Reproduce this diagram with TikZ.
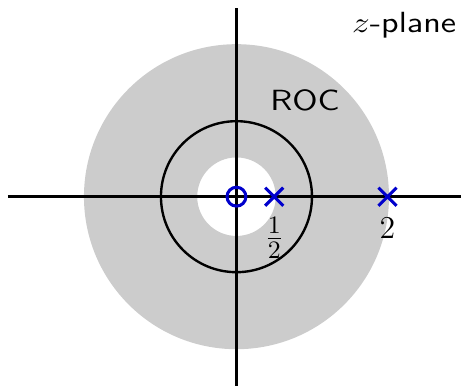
\documentclass[tikz,border=0pt]{standalone}
\usetikzlibrary{calc}
\begin{document}
\begin{tikzpicture}[x=1cm,y=1cm,
  axis/.style={line width=0.9pt},
  polemark/.style={blue!80!black, line width=1.15pt},
  lbl/.style={inner sep=0pt, font=\fontsize{11}{13}\selectfont\sffamily},
  numlbl/.style={inner sep=0pt, font=\fontsize{13}{15}\selectfont}]
\useasboundingbox (-3.132,-2.507) rectangle (2.974,2.605);
\fill[gray!40, even odd rule] (0,0) circle (2.02) (0,0) circle (0.52);
\draw[axis] (0,0) circle (1);
\coordinate (xl) at (-3.026,0);
\coordinate (xr) at (2.974,0);
\coordinate (yb) at (0,-2.507);
\coordinate (yt) at (0,2.5);
\draw[axis] (xl) -- (xr);
\draw[axis] (yb) -- (yt);
\node[draw, circle, polemark, minimum size=0.25cm, inner sep=0pt] (zero) at (0,0) {};
\coordinate (p1) at (0.5,0);
\coordinate (p2) at (2,0);
\draw[polemark] ($(p1)+(-0.12,-0.12)$) -- ($(p1)+(0.12,0.12)$) ($(p1)+(-0.12,0.12)$) -- ($(p1)+(0.12,-0.12)$);
\draw[polemark] ($(p2)+(-0.12,-0.12)$) -- ($(p2)+(0.12,0.12)$) ($(p2)+(-0.12,0.12)$) -- ($(p2)+(0.12,-0.12)$);
\node[numlbl] (half) at (0.5,-0.55) {\scalebox{1.05}{$\frac{1}{2}$}};
\node[numlbl] (two) at (2,-0.42) {$2$};
\node[lbl] (roc) at (0.907,1.28) {\scalebox{1.2}[1]{ROC}};
\node[lbl] (zp) at (2.22,2.27) {\scalebox{1.2}[1]{$z$-plane}};
\end{tikzpicture}
\end{document}
